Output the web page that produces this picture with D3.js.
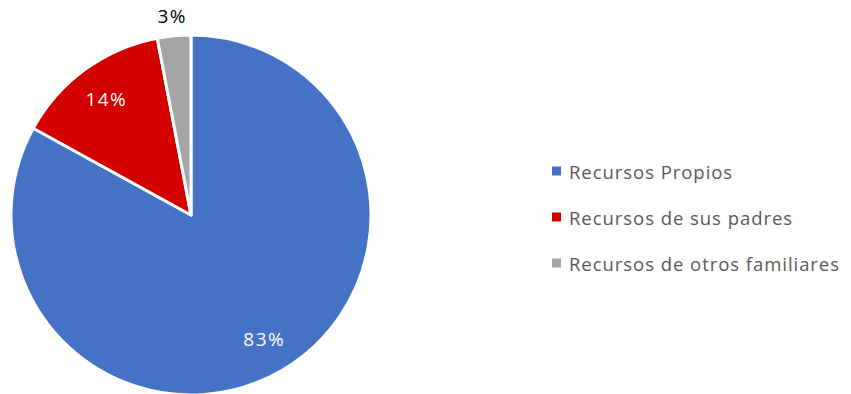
<!DOCTYPE html>
<html>
<head>
<meta charset="utf-8">
<script src="https://cdn.jsdelivr.net/npm/d3@7"></script>
<style>
  html, body { margin: 0; padding: 0; background: #fff; }
  svg { display: block; }
  text { font-family: "Open Sans", "Liberation Sans", sans-serif; }
</style>
</head>
<body>
<svg id="chart" width="851" height="394"></svg>
<script>
// Source of funds, share of respondents (%)
const categories = ["Recursos Propios", "Recursos de sus padres", "Recursos de otros familiares"];
const values = [83, 14, 3];
const colors = ["#4472C4", "#D40000", "#A5A5A5"];

const svg = d3.select("#chart");
const cx = 191, cy = 215, R = 180;

const color = d3.scaleOrdinal().domain(categories).range(colors);
const pie = d3.pie().sort(null).value(d => d.value);
const arcs = pie(categories.map((c, i) => ({ name: c, value: values[i] })));

const arc = d3.arc().innerRadius(0).outerRadius(R);
const inLabel = d3.arc().innerRadius(R * 0.8).outerRadius(R * 0.8);
const outLabel = d3.arc().innerRadius(R * 1.11).outerRadius(R * 1.11);

const g = svg.append("g").attr("transform", `translate(${cx},${cy})`);

g.selectAll("path.slice")
  .data(arcs)
  .join("path")
  .attr("class", "slice")
  .attr("d", arc)
  .attr("fill", d => color(d.data.name))
  .attr("stroke", "#fff")
  .attr("stroke-width", 3)
  .attr("stroke-linejoin", "round");

g.selectAll("text.lbl")
  .data(arcs)
  .join("text")
  .attr("class", "lbl")
  .attr("transform", d => {
    const p = d.data.value < 5 ? outLabel.centroid(d) : inLabel.centroid(d);
    return `translate(${p[0]},${p[1]})`;
  })
  .attr("text-anchor", "middle")
  .attr("dominant-baseline", "central")
  .attr("font-size", 19)
  .attr("letter-spacing", 1.5)
  .attr("fill", d => d.data.value < 5 ? "#000" : "#fff")
  .text(d => d.data.value + "%");

// Legend
const legend = svg.append("g").attr("transform", "translate(552,171)");
const rowGap = 46;
const items = legend.selectAll("g.item")
  .data(categories)
  .join("g")
  .attr("class", "item")
  .attr("transform", (d, i) => `translate(0,${i * rowGap})`);

items.append("rect")
  .attr("x", 0).attr("y", -4.5)
  .attr("width", 9).attr("height", 9)
  .attr("fill", d => color(d));

items.append("text")
  .attr("x", 17)
  .attr("y", 0)
  .attr("dominant-baseline", "central")
  .attr("font-size", 18.5)
  .attr("letter-spacing", 0.95)
  .attr("fill", "#595959")
  .text(d => d);
</script>
</body>
</html>
